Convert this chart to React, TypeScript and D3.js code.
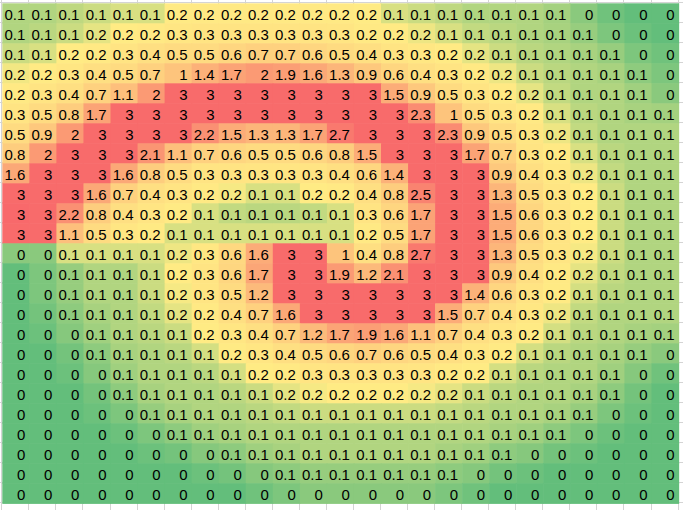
// App.tsx
import React, { useEffect, useRef } from "react";
import * as d3 from "d3";

// one array per sheet row, 25 columns each (values as shown, 1 decimal)
const row00 = [0.1, 0.1, 0.1, 0.1, 0.1, 0.1, 0.2, 0.2, 0.2, 0.2, 0.2, 0.2, 0.2, 0.2, 0.1, 0.1, 0.1, 0.1, 0.1, 0.1, 0.1, 0, 0, 0, 0];
const row01 = [0.1, 0.1, 0.1, 0.2, 0.2, 0.2, 0.3, 0.3, 0.3, 0.3, 0.3, 0.3, 0.3, 0.2, 0.2, 0.2, 0.1, 0.1, 0.1, 0.1, 0.1, 0.1, 0, 0, 0];
const row02 = [0.1, 0.1, 0.2, 0.2, 0.3, 0.4, 0.5, 0.5, 0.6, 0.7, 0.7, 0.6, 0.5, 0.4, 0.3, 0.3, 0.2, 0.2, 0.1, 0.1, 0.1, 0.1, 0.1, 0, 0];
const row03 = [0.2, 0.2, 0.3, 0.4, 0.5, 0.7, 1, 1.4, 1.7, 2, 1.9, 1.6, 1.3, 0.9, 0.6, 0.4, 0.3, 0.2, 0.2, 0.1, 0.1, 0.1, 0.1, 0.1, 0];
const row04 = [0.2, 0.3, 0.4, 0.7, 1.1, 2, 3, 3, 3, 3, 3, 3, 3, 3, 1.5, 0.9, 0.5, 0.3, 0.2, 0.2, 0.1, 0.1, 0.1, 0.1, 0];
const row05 = [0.3, 0.5, 0.8, 1.7, 3, 3, 3, 3, 3, 3, 3, 3, 3, 3, 3, 2.3, 1, 0.5, 0.3, 0.2, 0.1, 0.1, 0.1, 0.1, 0.1];
const row06 = [0.5, 0.9, 2, 3, 3, 3, 3, 2.2, 1.5, 1.3, 1.3, 1.7, 2.7, 3, 3, 3, 2.3, 0.9, 0.5, 0.3, 0.2, 0.1, 0.1, 0.1, 0.1];
const row07 = [0.8, 2, 3, 3, 3, 2.1, 1.1, 0.7, 0.6, 0.5, 0.5, 0.6, 0.8, 1.5, 3, 3, 3, 1.7, 0.7, 0.3, 0.2, 0.1, 0.1, 0.1, 0.1];
const row08 = [1.6, 3, 3, 3, 1.6, 0.8, 0.5, 0.3, 0.3, 0.3, 0.3, 0.3, 0.4, 0.6, 1.4, 3, 3, 3, 0.9, 0.4, 0.3, 0.2, 0.1, 0.1, 0.1];
const row09 = [3, 3, 3, 1.6, 0.7, 0.4, 0.3, 0.2, 0.2, 0.1, 0.1, 0.2, 0.2, 0.4, 0.8, 2.5, 3, 3, 1.3, 0.5, 0.3, 0.2, 0.1, 0.1, 0.1];
const row10 = [3, 3, 2.2, 0.8, 0.4, 0.3, 0.2, 0.1, 0.1, 0.1, 0.1, 0.1, 0.1, 0.3, 0.6, 1.7, 3, 3, 1.5, 0.6, 0.3, 0.2, 0.1, 0.1, 0.1];
const row11 = [3, 3, 1.1, 0.5, 0.3, 0.2, 0.1, 0.1, 0.1, 0.1, 0.1, 0.1, 0.1, 0.2, 0.5, 1.7, 3, 3, 1.5, 0.6, 0.3, 0.2, 0.1, 0.1, 0.1];
const row12 = [0, 0, 0.1, 0.1, 0.1, 0.1, 0.2, 0.3, 0.6, 1.6, 3, 3, 1, 0.4, 0.8, 2.7, 3, 3, 1.3, 0.5, 0.3, 0.2, 0.1, 0.1, 0.1];
const row13 = [0, 0, 0.1, 0.1, 0.1, 0.1, 0.2, 0.3, 0.6, 1.7, 3, 3, 1.9, 1.2, 2.1, 3, 3, 3, 0.9, 0.4, 0.2, 0.2, 0.1, 0.1, 0.1];
const row14 = [0, 0, 0.1, 0.1, 0.1, 0.1, 0.2, 0.3, 0.5, 1.2, 3, 3, 3, 3, 3, 3, 3, 1.4, 0.6, 0.3, 0.2, 0.1, 0.1, 0.1, 0.1];
const row15 = [0, 0, 0.1, 0.1, 0.1, 0.1, 0.2, 0.2, 0.4, 0.7, 1.6, 3, 3, 3, 3, 3, 1.5, 0.7, 0.4, 0.3, 0.2, 0.1, 0.1, 0.1, 0.1];
const row16 = [0, 0, 0, 0.1, 0.1, 0.1, 0.1, 0.2, 0.3, 0.4, 0.7, 1.2, 1.7, 1.9, 1.6, 1.1, 0.7, 0.4, 0.3, 0.2, 0.1, 0.1, 0.1, 0.1, 0.1];
const row17 = [0, 0, 0, 0.1, 0.1, 0.1, 0.1, 0.1, 0.2, 0.3, 0.4, 0.5, 0.6, 0.7, 0.6, 0.5, 0.4, 0.3, 0.2, 0.1, 0.1, 0.1, 0.1, 0.1, 0];
const row18 = [0, 0, 0, 0, 0.1, 0.1, 0.1, 0.1, 0.1, 0.2, 0.2, 0.3, 0.3, 0.3, 0.3, 0.3, 0.2, 0.2, 0.1, 0.1, 0.1, 0.1, 0.1, 0, 0];
const row19 = [0, 0, 0, 0, 0.1, 0.1, 0.1, 0.1, 0.1, 0.1, 0.2, 0.2, 0.2, 0.2, 0.2, 0.2, 0.2, 0.1, 0.1, 0.1, 0.1, 0.1, 0.1, 0, 0];
const row20 = [0, 0, 0, 0, 0, 0.1, 0.1, 0.1, 0.1, 0.1, 0.1, 0.1, 0.1, 0.1, 0.1, 0.1, 0.1, 0.1, 0.1, 0.1, 0.1, 0.1, 0, 0, 0];
const row21 = [0, 0, 0, 0, 0, 0, 0.1, 0.1, 0.1, 0.1, 0.1, 0.1, 0.1, 0.1, 0.1, 0.1, 0.1, 0.1, 0.1, 0.1, 0.1, 0, 0, 0, 0];
const row22 = [0, 0, 0, 0, 0, 0, 0, 0, 0.1, 0.1, 0.1, 0.1, 0.1, 0.1, 0.1, 0.1, 0.1, 0.1, 0.1, 0, 0, 0, 0, 0, 0];
const row23 = [0, 0, 0, 0, 0, 0, 0, 0, 0, 0, 0.1, 0.1, 0.1, 0.1, 0.1, 0.1, 0.1, 0, 0, 0, 0, 0, 0, 0, 0];
const row24 = [0, 0, 0, 0, 0, 0, 0, 0, 0, 0, 0, 0, 0, 0, 0, 0, 0, 0, 0, 0, 0, 0, 0, 0, 0];

const rows = [
  row00, row01, row02, row03, row04, row05, row06, row07, row08, row09, row10, row11, row12,
  row13, row14, row15, row16, row17, row18, row19, row20, row21, row22, row23, row24,
];

// excel 3-colour scale stops
const colorStops = [0, 0.2, 3];
const colorRange = ["#63BE7B", "#FFEB84", "#F8696B"];

const HeatGrid = () => {
  const ref = useRef<SVGSVGElement | null>(null);

  useEffect(() => {
    const width = 683;
    const height = 510;
    const left = 2.3;
    const top = 3.3;
    const colW = 27.05;
    const rowH = 20;
    const nCols = rows[0].length;
    const nRows = rows.length;

    const svg = d3.select(ref.current);
    svg.selectAll("*").remove();

    const x = d3
      .scaleBand<number>()
      .domain(d3.range(nCols))
      .range([left, left + colW * nCols]);
    const y = d3
      .scaleBand<number>()
      .domain(d3.range(nRows))
      .range([top, top + rowH * nRows]);
    const color = d3.scaleLinear<string>().domain(colorStops).range(colorRange).clamp(true);

    // shown values are rounded to 0.1 - the fill follows the unrounded value,
    // so estimate it from the neighbours but keep it inside the rounding interval
    const shade = (i: number, j: number) => {
      const v = rows[j][i];
      const around: number[] = [];
      for (let dj = -1; dj <= 1; dj++)
        for (let di = -1; di <= 1; di++) {
          const r = rows[j + dj];
          if (r && r[i + di] !== undefined) around.push(r[i + di]);
        }
      const m = d3.mean(around) ?? v;
      return Math.max(0, Math.min(v + 0.05, Math.max(v - 0.05, m)));
    };

    svg.append("rect").attr("width", width).attr("height", height).attr("fill", "#fff");

    // sheet gridlines (visible only outside the filled block)
    const grid = svg.append("g").attr("stroke", "#D4D4D4").attr("stroke-width", 1);
    d3.range(-1, nCols + 2).forEach((i) => {
      const gx = Math.round(left + i * colW) - 0.5;
      grid.append("line").attr("x1", gx).attr("x2", gx).attr("y1", 0).attr("y2", height);
    });
    d3.range(-1, nRows + 2).forEach((j) => {
      const gy = Math.round(top + j * rowH) - 0.5;
      grid.append("line").attr("x1", 0).attr("x2", width).attr("y1", gy).attr("y2", gy);
    });

    const cells = rows.flatMap((r, j) => r.map((v, i) => ({ i, j, v, s: shade(i, j) })));

    svg
      .append("g")
      .selectAll("rect")
      .data(cells)
      .enter()
      .append("rect")
      .attr("x", (d) => x(d.i)!)
      .attr("y", (d) => y(d.j)!)
      .attr("width", x.bandwidth() + 0.6)
      .attr("height", y.bandwidth() + 0.6)
      .attr("fill", (d) => color(d.s));

    svg
      .append("g")
      .style("font-family", "'Liberation Sans Narrow', 'Liberation Sans', Arial, sans-serif")
      .style("font-size", "15px")
      .attr("fill", "#000")
      .selectAll("text")
      .data(cells)
      .enter()
      .append("text")
      .attr("x", (d) => x(d.i)! + x.bandwidth() - 4)
      .attr("y", (d) => y(d.j)! + y.bandwidth() - 3.5)
      .attr("text-anchor", "end")
      .text((d) => String(d.v));
  }, []);

  return (
    <svg
      ref={ref}
      width={683}
      height={510}
      style={{ position: "absolute", left: 0, top: 0, display: "block" }}
    />
  );
};

export default function App() {
  return <HeatGrid />;
}
